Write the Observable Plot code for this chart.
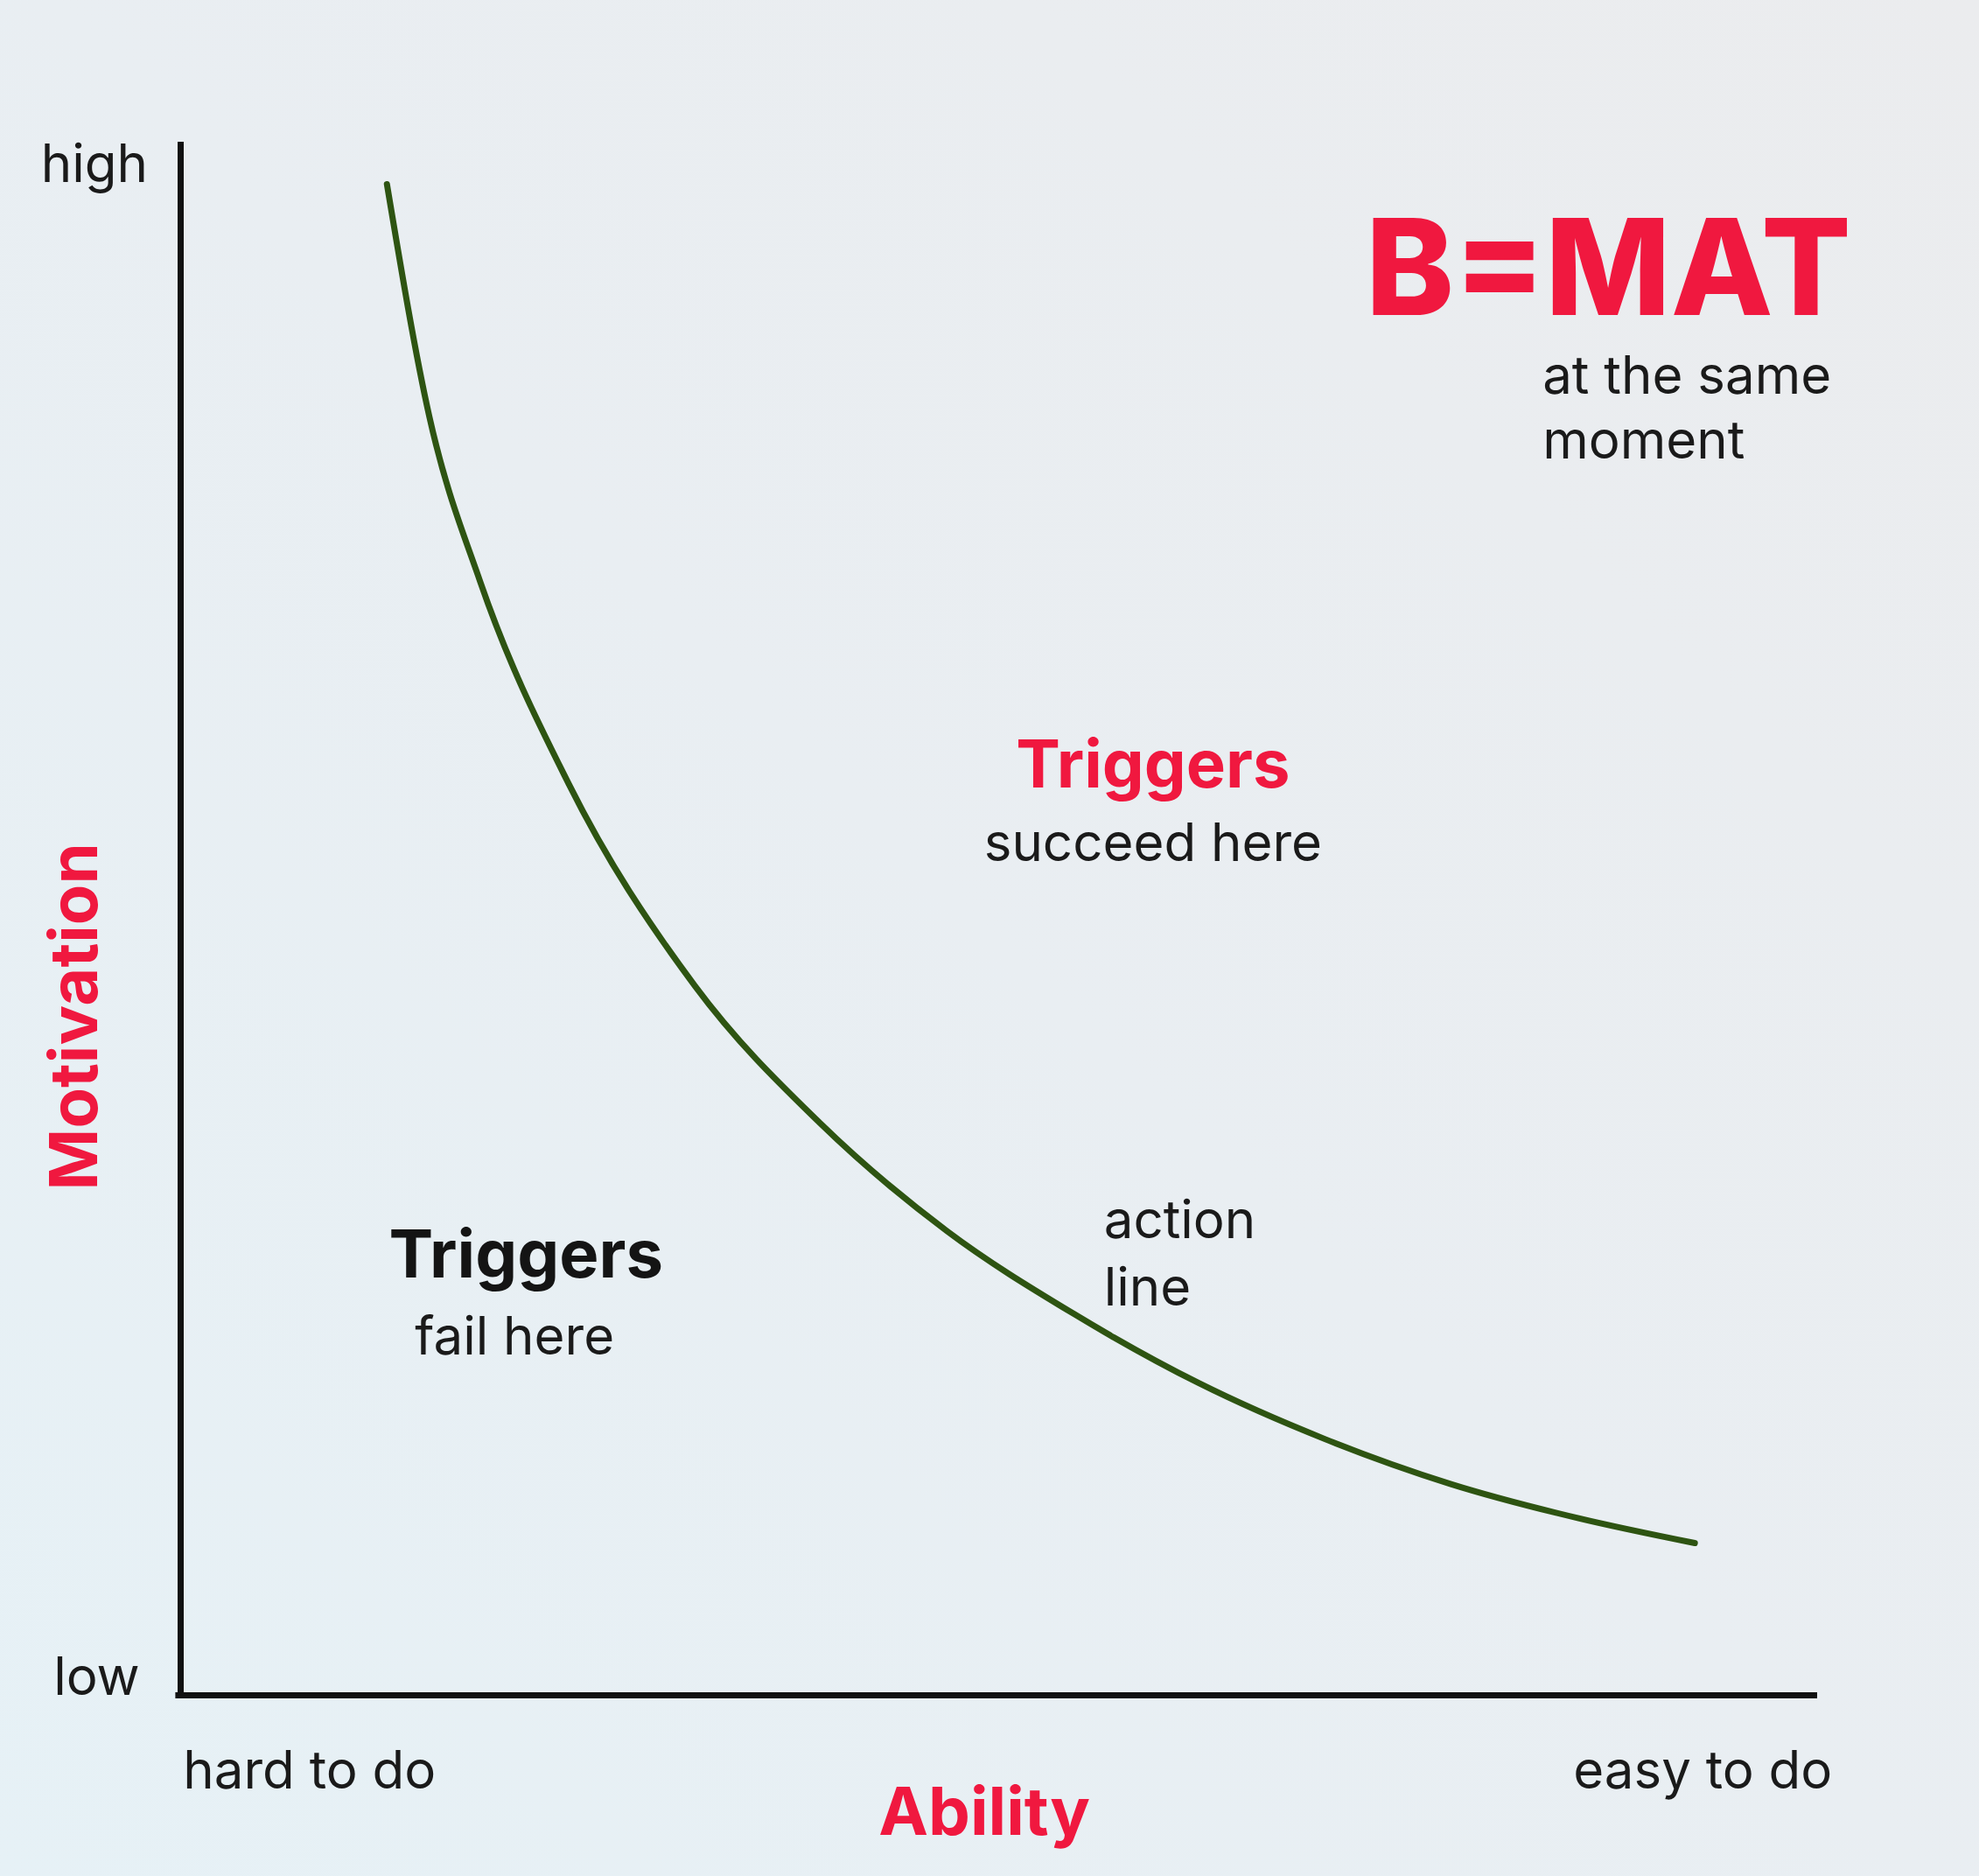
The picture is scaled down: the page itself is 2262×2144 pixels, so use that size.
<!DOCTYPE html>
<html><head><meta charset="utf-8">
<script src="https://cdn.jsdelivr.net/npm/d3@7"></script>
<script src="https://cdn.jsdelivr.net/npm/@observablehq/plot@0.6"></script>
<style>
html,body{margin:0;padding:0;}
body{width:2262px;height:2144px;background:linear-gradient(45deg,#e6f1f6 0%,#e9eef2 50%,#ebecee 100%);overflow:hidden;}
svg{background:transparent !important;}
</style></head><body>
<div id="chart"></div>
<script>
const ability =    [12.6, 15.2, 18.3, 23.7, 31.4, 39.1, 46.8, 54.5, 62.2, 69.9, 77.6, 85.4, 92.5];
const motivation = [97.3, 82.3, 71.7, 58.7, 45.7, 36.8, 29.9, 24.6, 20.1, 16.5, 13.6, 11.4, 9.8];
const curve = ability.map((a, i) => ({x: a, y: motivation[i]}));

const tickLabels = [
  {x: -2, y: 98.5, text: "high", anchor: "end"},
  {x: -2.5, y: 1.1, text: "low", anchor: "end"},
  {x: 0.15, y: -4.9, text: "hard to do", anchor: "start"},
  {x: 100.9, y: -4.9, text: "easy to do", anchor: "end"}
];
const redLabels = [
  {x: 49.1, y: -7.6, text: "Ability", rotate: 0},
  {x: -6.4, y: 43.7, text: "Motivation", rotate: -90}
];
const regionTitles = [
  {x: 59.4, y: 59.8, text: "Triggers", color: "#f0183f"},
  {x: 21.1, y: 28.3, text: "Triggers", color: "#141414"}
];
const regionNotes = [
  {x: 59.4, y: 54.8, text: "succeed here", anchor: "middle"},
  {x: 20.4, y: 23.0, text: "fail here", anchor: "middle"},
  {x: 56.4, y: 30.5, text: "action", anchor: "start"},
  {x: 56.4, y: 26.2, text: "line", anchor: "start"},
  {x: 83.2, y: 84.9, text: "at the same", anchor: "start"},
  {x: 83.2, y: 80.7, text: "moment", anchor: "start"}
];
const formula = [{x: 72.4, y: 91.6, text: "B=MAT"}];

const font = "Inter, 'Open Sans', sans-serif";
const allText = [...tickLabels, ...regionNotes];
const byAnchor = a => allText.filter(d => d.anchor === a);
const chart = Plot.plot({
  width: 2262, height: 2144,
  marginLeft: 206, marginTop: 162, marginRight: 185, marginBottom: 207,
  x: {domain: [0, 100], axis: null},
  y: {domain: [0, 100], axis: null},
  style: {fontFamily: font, background: "transparent", overflow: "visible"},
  marks: [
    Plot.ruleX([0], {y1: 0, y2: 100, stroke: "#111", strokeWidth: 7}),
    Plot.ruleY([0], {x1: -0.3, x2: 100, stroke: "#111", strokeWidth: 7}),
    Plot.line(curve, {x: "x", y: "y", curve: "monotone-x", stroke: "#2e5412", strokeWidth: 7}),
    ...["start", "middle", "end"].map(a =>
      Plot.text(byAnchor(a), {x: "x", y: "y", text: "text", textAnchor: a, fontSize: 60, fill: "#1a1a1a"})),
    Plot.text(redLabels, {x: "x", y: "y", text: "text", rotate: "rotate", fontSize: 76, fontWeight: 700, fill: "#f0183f"}),
    Plot.text(regionTitles, {x: "x", y: "y", text: "text", fill: "color", fontSize: 76, fontWeight: 700}),
    Plot.text(formula, {x: "x", y: "y", text: "text", textAnchor: "start", fontSize: 152, fontWeight: 800, fill: "#f0183f"})
  ]
});
document.getElementById("chart").appendChild(chart);
</script>
</body></html>
